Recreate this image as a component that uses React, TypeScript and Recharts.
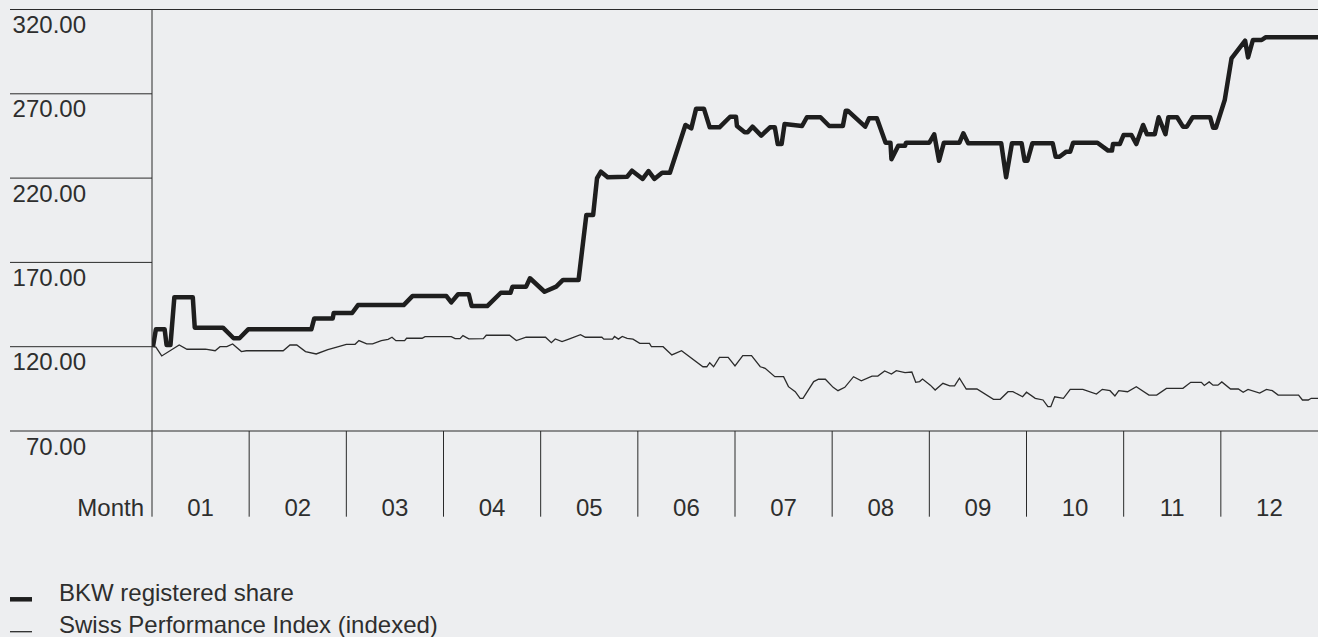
import React from "react";
import { LineChart, Line, XAxis, YAxis, ReferenceLine } from "recharts";

// BKW registered share (t = position in months, 0..12)
const bkwT = [0.01, 0.04, 0.13, 0.15, 0.19, 0.23, 0.42, 0.44, 0.73, 0.84, 0.9, 0.99, 1.64, 1.67, 1.86, 1.87, 2.06, 2.12, 2.59, 2.68, 3.03, 3.08, 3.15, 3.26, 3.29, 3.45, 3.59, 3.69, 3.71, 3.85, 3.89, 4.04, 4.16, 4.23, 4.39, 4.47, 4.54, 4.58, 4.62, 4.69, 4.89, 4.94, 5.05, 5.11, 5.17, 5.25, 5.33, 5.49, 5.55, 5.6, 5.68, 5.74, 5.84, 5.95, 6.01, 6.02, 6.1, 6.13, 6.18, 6.27, 6.36, 6.41, 6.44, 6.48, 6.51, 6.69, 6.74, 6.88, 6.97, 7.11, 7.14, 7.16, 7.34, 7.38, 7.46, 7.55, 7.6, 7.61, 7.68, 7.75, 7.76, 8.0, 8.05, 8.1, 8.15, 8.31, 8.35, 8.4, 8.74, 8.79, 8.85, 8.95, 8.98, 9.01, 9.06, 9.27, 9.3, 9.34, 9.41, 9.45, 9.48, 9.73, 9.84, 9.88, 9.89, 9.96, 10.0, 10.08, 10.13, 10.2, 10.24, 10.32, 10.36, 10.43, 10.46, 10.55, 10.61, 10.65, 10.71, 10.89, 10.92, 10.95, 11.04, 11.11, 11.25, 11.28, 11.33, 11.42, 11.46, 12.0];
const bkwV = [120, 130.3, 130.3, 121, 121, 149.3, 149.3, 131.3, 131.3, 125, 125, 130.3, 130.3, 136.8, 136.8, 140, 140, 144.7, 144.7, 150, 150, 146.3, 151.1, 151.1, 144.1, 144.1, 152, 152, 155.6, 155.6, 160.6, 152.6, 155.6, 159.6, 159.6, 198.1, 198.1, 219.9, 223.8, 220.5, 220.8, 224.4, 219.5, 224.2, 219.5, 223.2, 223.2, 251.5, 249.5, 261.2, 261.2, 250.1, 250.1, 256.4, 256.4, 250.9, 247.2, 247.2, 250.5, 245.2, 250.1, 250.1, 240.2, 240.2, 252.1, 250.9, 256.1, 256.1, 250.9, 250.9, 260, 260, 250.5, 255.5, 255.5, 241, 241, 231.2, 239.2, 239.2, 241, 241, 246, 230.3, 241, 241, 246.6, 240.6, 240.6, 220.5, 240.6, 240.6, 230.3, 230.3, 240.6, 240.6, 232.7, 232.7, 235.7, 235.7, 241, 241, 236.3, 236.3, 240.2, 240.2, 245.6, 245.6, 240.2, 251.5, 246, 246, 256.1, 246, 256.1, 256.1, 250.5, 250.5, 256.1, 256.1, 249.9, 249.9, 266.3, 291, 301.5, 291.6, 301.9, 301.9, 303.5, 303.5];

// Swiss Performance Index (indexed)
const spiT = [0.0, 0.04, 0.1, 0.28, 0.36, 0.55, 0.65, 0.7, 0.77, 0.83, 0.92, 0.97, 1.35, 1.42, 1.49, 1.58, 1.69, 1.81, 1.92, 2.0, 2.09, 2.13, 2.21, 2.27, 2.36, 2.43, 2.47, 2.51, 2.6, 2.62, 2.78, 2.81, 3.08, 3.12, 3.17, 3.2, 3.26, 3.41, 3.44, 3.68, 3.75, 3.85, 4.05, 4.11, 4.15, 4.22, 4.29, 4.41, 4.46, 4.63, 4.65, 4.74, 4.76, 4.8, 4.84, 4.89, 4.95, 5.02, 5.12, 5.14, 5.26, 5.35, 5.45, 5.67, 5.71, 5.74, 5.78, 5.84, 5.93, 6.0, 6.08, 6.17, 6.26, 6.31, 6.41, 6.5, 6.55, 6.62, 6.67, 6.7, 6.81, 6.86, 6.93, 7.01, 7.06, 7.13, 7.22, 7.3, 7.41, 7.47, 7.54, 7.61, 7.66, 7.75, 7.82, 7.86, 7.9, 7.93, 8.01, 8.06, 8.14, 8.21, 8.26, 8.31, 8.38, 8.49, 8.66, 8.73, 8.81, 8.86, 8.96, 9.0, 9.09, 9.17, 9.22, 9.25, 9.29, 9.38, 9.45, 9.58, 9.72, 9.78, 9.86, 9.91, 9.95, 10.04, 10.13, 10.26, 10.34, 10.44, 10.61, 10.69, 10.8, 10.83, 10.88, 10.92, 10.97, 11.01, 11.1, 11.18, 11.23, 11.28, 11.4, 11.47, 11.53, 11.59, 11.8, 11.84, 11.9, 11.93, 12.0];
const spiV = [120, 119.7, 114.5, 121, 118.5, 118.5, 117.6, 120, 120, 121.6, 117.1, 117.6, 117.6, 121, 121, 117.1, 115.7, 118.2, 120, 121.4, 121.4, 123.6, 121.7, 121.7, 123.6, 124.4, 125.6, 123.6, 123.6, 125, 125, 126, 126, 124.8, 124.8, 126.6, 124.7, 124.8, 126.8, 126.8, 123.6, 125.6, 125.6, 122.4, 124.6, 123, 124.5, 127.1, 125.6, 125.6, 124.5, 124.5, 126.1, 124.5, 126.1, 125, 124.5, 122, 122, 120, 120, 115.1, 117.6, 108.1, 108.1, 110.5, 108.1, 113.7, 113.7, 108.6, 114.7, 114.7, 108.1, 107.2, 102.2, 102.2, 96.3, 93.3, 89.4, 89.4, 99.3, 100.7, 100.7, 95.9, 93.9, 95.9, 102.2, 99.8, 102.6, 102.6, 105.6, 103.8, 105.8, 104.6, 105, 98.9, 99.3, 100.8, 97.2, 94.3, 98.3, 96.8, 96.8, 101.3, 94.9, 94.9, 88.8, 88.8, 93.3, 93.3, 90.3, 93, 89.4, 88.4, 84.4, 84.4, 90.3, 89.4, 94.7, 94.7, 91.9, 94.7, 93.9, 90.8, 93.9, 93.3, 96.3, 91.3, 91.3, 95.3, 95.3, 98.9, 98.9, 97, 99.1, 97.2, 97.2, 99.1, 94.9, 94.9, 93, 94.7, 92.5, 94.7, 93.9, 91.3, 91.3, 88.4, 88.4, 89.4, 89.4];

const monthLabels = ["01", "02", "03", "04", "05", "06", "07", "08", "09", "10", "11", "12"];
const monthTicks = [0, 1, 2, 3, 4, 5, 6, 7, 8, 9, 10, 11];
const yTicks = [70, 120, 170, 220, 270, 320];
const seriesNames = ["BKW registered share", "Swiss Performance Index (indexed)"];

const bkwData = bkwT.map((t, i) => ({ t, v: bkwV[i] }));
const spiData = spiT.map((t, i) => ({ t, v: spiV[i] }));

const W = 1318;
const H = 637;
const LEFT = 152;
const TOP = 9.5;
const XAXIS_H = 86;
const BOTTOM = 120;
const MONTH_W = (W - LEFT) / 12;
const FONT = "'Liberation Sans', Arial, Helvetica, sans-serif";
const TEXT = "#2e2e2e";
const LINE = "#2a2a2a";

const YTick = (props: any) => {
  const { y, payload } = props;
  return (
    <g>
      <line x1={10} x2={LEFT} y1={y} y2={y} stroke={LINE} strokeWidth={1} />
      <text x={86} y={y + 23.5} textAnchor="end" fontSize={24} fontFamily={FONT} fill={TEXT}>
        {Number(payload.value).toFixed(2)}
      </text>
    </g>
  );
};

const XTick = (props: any) => {
  const { x, y, payload } = props;
  const idx = Number(payload.value);
  return (
    <g>
      <line x1={x} x2={x} y1={y} y2={y + 85.7} stroke={LINE} strokeWidth={1} />
      <text x={x + MONTH_W / 2} y={y + 84.5} textAnchor="middle" fontSize={24} fontFamily={FONT} fill={TEXT}>
        {monthLabels[idx]}
      </text>
      {idx === 0 ? (
        <text x={x - 8} y={y + 84.5} textAnchor="end" fontSize={24} fontFamily={FONT} fill={TEXT}>
          Month
        </text>
      ) : null}
    </g>
  );
};

export default function App() {
  return (
    <div style={{ position: "absolute", left: 0, top: 0, width: W, height: H, background: "#edeef0", overflow: "hidden" }}>
      <LineChart width={W} height={H} margin={{ top: TOP, right: 0, left: 0, bottom: BOTTOM }}>
        <XAxis
          type="number"
          dataKey="t"
          domain={[0, 12]}
          ticks={monthTicks}
          interval={0}
          height={XAXIS_H}
          tickSize={0}
          tickMargin={0}
          tickLine={false}
          axisLine={{ stroke: LINE, strokeWidth: 1 }}
          tick={<XTick />}
          allowDataOverflow
        />
        <YAxis
          type="number"
          domain={[70, 320]}
          ticks={yTicks}
          interval={0}
          width={LEFT}
          tickSize={0}
          tickMargin={0}
          tickLine={false}
          axisLine={{ stroke: LINE, strokeWidth: 1 }}
          tick={<YTick />}
          allowDataOverflow
        />
        <ReferenceLine y={320} stroke={LINE} strokeWidth={1} />
        <Line
          data={spiData}
          dataKey="v"
          name={seriesNames[1]}
          type="linear"
          stroke="#2b2b2b"
          strokeWidth={1.3}
          dot={false}
          isAnimationActive={false}
        />
        <Line
          data={bkwData}
          dataKey="v"
          name={seriesNames[0]}
          type="linear"
          stroke="#1e1e1e"
          strokeWidth={4.5}
          strokeLinejoin="round"
          dot={false}
          isAnimationActive={false}
        />
      </LineChart>
      <svg width={W} height={H} style={{ position: "absolute", left: 0, top: 0, pointerEvents: "none" }}>
        <line x1={10} x2={32} y1={599.3} y2={599.3} stroke="#1e1e1e" strokeWidth={4.5} />
        <text x={59} y={600.5} fontSize={24} fontFamily={FONT} fill={TEXT}>{seriesNames[0]}</text>
        <line x1={10} x2={32} y1={631.7} y2={631.7} stroke="#2b2b2b" strokeWidth={1.3} />
        <text x={59} y={633} fontSize={24} fontFamily={FONT} fill={TEXT}>{seriesNames[1]}</text>
      </svg>
    </div>
  );
}
